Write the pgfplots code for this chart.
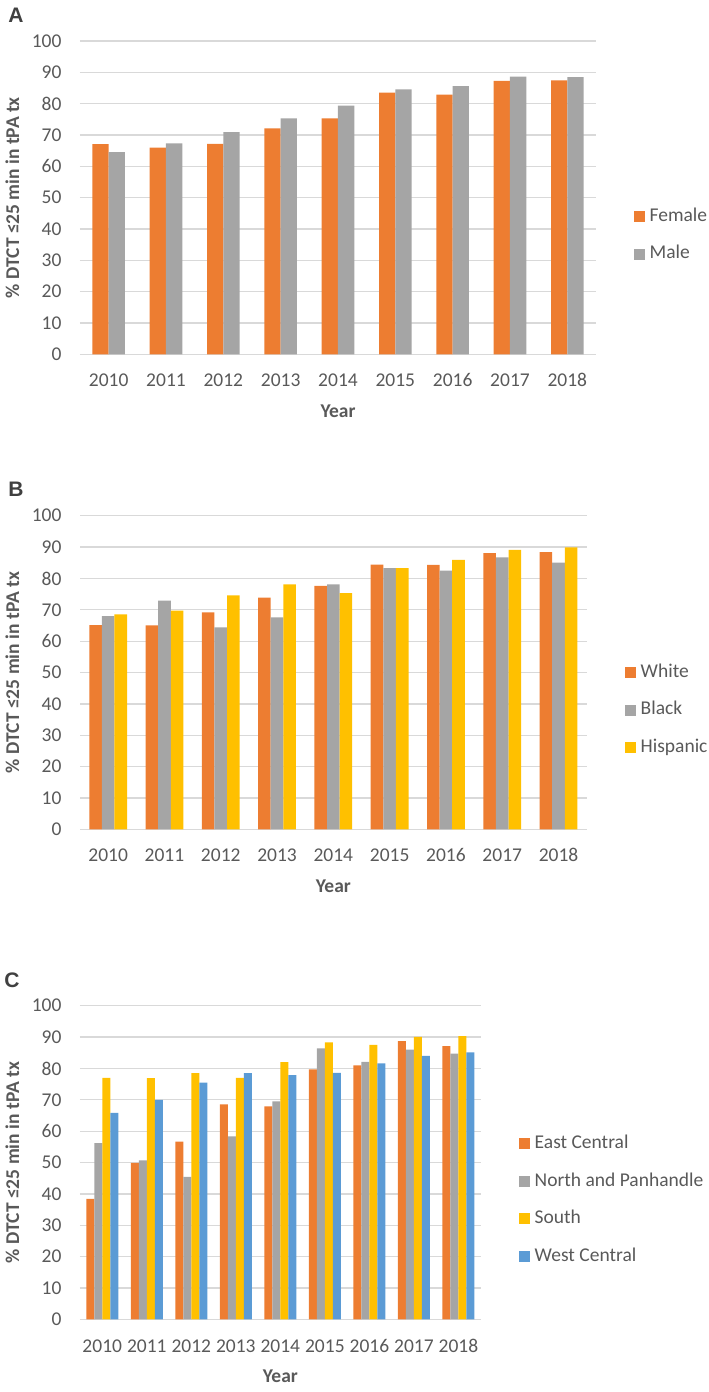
\documentclass[border=0pt]{standalone}
\usepackage{pgfplots}
\pgfplotsset{compat=1.18}
\usepackage{fontspec}
\setmainfont{Carlito}
\newfontfamily\arialfont{Liberation Sans}
\definecolor{cOr}{HTML}{ED7D31}
\definecolor{cGr}{HTML}{A5A5A5}
\definecolor{cYe}{HTML}{FFC000}
\definecolor{cBl}{HTML}{5B9BD5}
\definecolor{cTx}{HTML}{595959}
\definecolor{cLt}{HTML}{404040}
\definecolor{cGrid}{HTML}{D9D9D9}
\newcommand\lbl{\fontsize{19.5pt}{23pt}\selectfont}
\pgfplotsset{
 mybar/.style={
  scale only axis, ybar=0pt, ymin=0, ymax=100, ytick={0,10,...,100},
  xmin=-0.5, xmax=8.5, xtick={0,...,8},
  xticklabels={2010,2011,2012,2013,2014,2015,2016,2017,2018},
  ymajorgrids, major grid style={cGrid, line width=1.3pt},
  axis line style={draw=none}, major tick length=0pt,
  tick label style={font=\lbl, text=cTx},
  /pgf/number format/assume math mode=true,
  yticklabel style={anchor=east, inner sep=0pt, xshift=-18.3pt},
  xticklabel style={anchor=center, inner sep=0pt, yshift=-26pt},
  every axis x label/.style={at={(axis description cs:0.5,0)}, anchor=center, yshift=-57pt, font=\lbl\bfseries, text=cTx},
  xlabel=Year,
  ylabel={\% DTCT ≤25 min in tPA tx},
  legend style={draw=none, fill=none, font=\lbl, text=cTx, anchor=west, nodes={inner sep=0pt, text height=12.5pt, text depth=3pt}, row sep=22pt, column sep=4.5pt},
  legend cell align=left,
  legend image code/.code={\fill[##1, draw=none] (0pt,-5.5pt) rectangle (11pt,5.5pt);},
 },
 ylab/.style={every axis y label/.style={at={(axis description cs:#1,0.5)}, rotate=90, anchor=center, font=\lbl\bfseries, text=cTx}},
}
\begin{document}
\begin{tikzpicture}
\useasboundingbox (0,0) rectangle (709pt,-1392pt);
\node[font=\arialfont\bfseries\fontsize{21pt}{24pt}\selectfont, text=cLt] at (16pt,-15.5pt) {A};
\node[font=\arialfont\bfseries\fontsize{21pt}{24pt}\selectfont, text=cLt] at (16pt,-489.5pt) {B};
\node[font=\arialfont\bfseries\fontsize{21pt}{24pt}\selectfont, text=cLt] at (12pt,-980pt) {C};

\begin{axis}[mybar, at={(80pt,-354.3pt)}, anchor=south west, width=516pt, height=313.3pt,
  ylab=-0.1312, bar width=16.3pt, legend style={at={(axis description cs:1.0678,0.3797)}}]
\addplot[fill=cOr, draw=none] coordinates {(0,67.1)(1,66.0)(2,67.2)(3,72.1)(4,75.3)(5,83.5)(6,82.9)(7,87.3)(8,87.4)};
\addplot[fill=cGr, draw=none] coordinates {(0,64.5)(1,67.3)(2,70.9)(3,75.3)(4,79.4)(5,84.6)(6,85.6)(7,88.6)(8,88.5)};
\legend{Female,Male}
\end{axis}

\begin{axis}[mybar, at={(80pt,-829.3pt)}, anchor=south west, width=506.7pt, height=313.6pt,
  ylab=-0.1336, bar width=12.6pt, legend style={at={(axis description cs:1.0697,0.3804)}}]
\addplot[fill=cOr, draw=none] coordinates {(0,65.1)(1,65.0)(2,69.2)(3,73.9)(4,77.6)(5,84.4)(6,84.3)(7,88.1)(8,88.4)};
\addplot[fill=cGr, draw=none] coordinates {(0,68.0)(1,72.9)(2,64.4)(3,67.6)(4,78.1)(5,83.3)(6,82.5)(7,86.7)(8,85.0)};
\addplot[fill=cYe, draw=none] coordinates {(0,68.5)(1,69.7)(2,74.6)(3,78.1)(4,75.3)(5,83.3)(6,85.9)(7,89.1)(8,89.9)};
\legend{White,Black,Hispanic}
\end{axis}

\begin{axis}[mybar, at={(80pt,-1319.3pt)}, anchor=south west, width=400.7pt, height=313.6pt,
  ylab=-0.169, bar width=8pt, xticklabel style={yshift=-1pt}, legend style={at={(axis description cs:1.0881,0.3804)}}]
\addplot[fill=cOr, draw=none] coordinates {(0,38.4)(1,49.9)(2,56.7)(3,68.5)(4,67.9)(5,79.7)(6,81.0)(7,88.7)(8,87.1)};
\addplot[fill=cGr, draw=none] coordinates {(0,56.2)(1,50.7)(2,45.4)(3,58.3)(4,69.5)(5,86.4)(6,82.1)(7,86.0)(8,84.7)};
\addplot[fill=cYe, draw=none] coordinates {(0,77.0)(1,76.9)(2,78.5)(3,77.0)(4,82.0)(5,88.3)(6,87.5)(7,90.1)(8,90.3)};
\addplot[fill=cBl, draw=none] coordinates {(0,65.8)(1,70.0)(2,75.5)(3,78.5)(4,77.9)(5,78.6)(6,81.6)(7,84.0)(8,85.1)};
\legend{East Central,North and Panhandle,South,West Central}
\end{axis}
\end{tikzpicture}
\end{document}
